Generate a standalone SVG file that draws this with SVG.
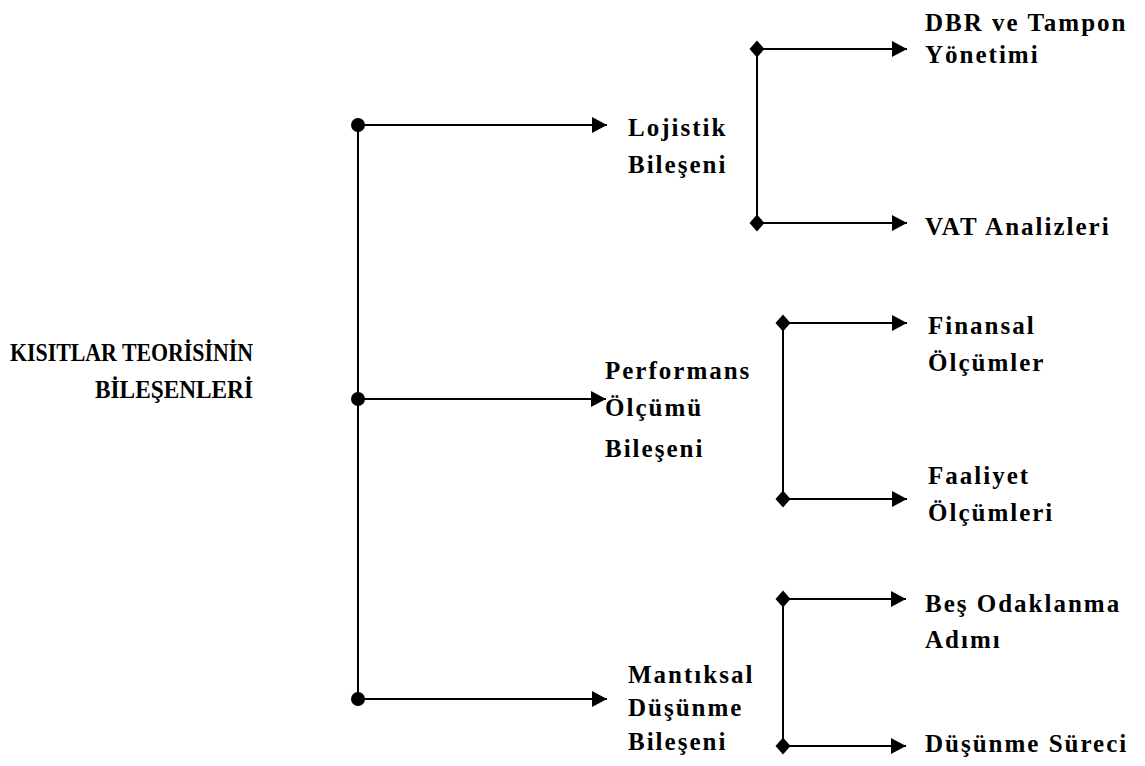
<svg xmlns="http://www.w3.org/2000/svg" width="1145" height="766" viewBox="0 0 1145 766">
<style>
  .t { font-family: "Liberation Serif", "Times New Roman", serif; font-weight: bold; font-size: 25px; fill: #000; letter-spacing: 2px; }
  .title { font-family: "Liberation Serif", "Times New Roman", serif; font-weight: bold; font-size: 25px; fill: #000; }
  .ln { stroke: #000; stroke-width: 2; fill: none; }
  .dot { fill: #000; }
</style>
<defs>
  <marker id="arr" markerUnits="userSpaceOnUse" markerWidth="16" markerHeight="18" refX="15" refY="8" orient="auto">
    <polygon points="0,0 15,8 0,16" fill="#000"/>
  </marker>
  <polygon id="dia" points="0,-8.5 7.5,0 0,8.5 -7.5,0" fill="#000"/>
</defs>
<rect width="1145" height="766" fill="#fff"/>
<g id="connectors">
  <line class="ln" x1="358" y1="125" x2="358" y2="699"/>
  <line class="ln" x1="358" y1="125" x2="607" y2="125" marker-end="url(#arr)"/>
  <line class="ln" x1="358" y1="399" x2="606" y2="399" marker-end="url(#arr)"/>
  <line class="ln" x1="358" y1="699" x2="607" y2="699" marker-end="url(#arr)"/>
  <circle class="dot" cx="358" cy="125" r="7"/>
  <circle class="dot" cx="358" cy="399" r="7"/>
  <circle class="dot" cx="358" cy="699" r="7"/>

  <line class="ln" x1="757" y1="49" x2="757" y2="223"/>
  <line class="ln" x1="757" y1="49" x2="907" y2="49" marker-end="url(#arr)"/>
  <line class="ln" x1="757" y1="223" x2="907" y2="223" marker-end="url(#arr)"/>
  <use href="#dia" x="757" y="49"/>
  <use href="#dia" x="757" y="223"/>

  <line class="ln" x1="783" y1="323" x2="783" y2="499"/>
  <line class="ln" x1="783" y1="323" x2="907" y2="323" marker-end="url(#arr)"/>
  <line class="ln" x1="783" y1="499" x2="907" y2="499" marker-end="url(#arr)"/>
  <use href="#dia" x="783" y="323"/>
  <use href="#dia" x="783" y="499"/>

  <line class="ln" x1="783" y1="599" x2="783" y2="746"/>
  <line class="ln" x1="783" y1="599" x2="906" y2="599" marker-end="url(#arr)"/>
  <line class="ln" x1="783" y1="746" x2="906" y2="746" marker-end="url(#arr)"/>
  <use href="#dia" x="783" y="599"/>
  <use href="#dia" x="783" y="746"/>
</g>
<g id="root">
  <text class="title" x="10" y="361" textLength="243" lengthAdjust="spacingAndGlyphs">KISITLAR TEORİSİNİN</text>
  <text class="title" x="95" y="398" textLength="158" lengthAdjust="spacingAndGlyphs">BİLEŞENLERİ</text>
</g>
<g id="lojistik">
  <text class="t" x="628" y="136">Lojistik</text>
  <text class="t" x="628" y="173">Bileşeni</text>
</g>
<g id="performans">
  <text class="t" x="605" y="379">Performans</text>
  <text class="t" x="605" y="416">Ölçümü</text>
  <text class="t" x="605" y="457">Bileşeni</text>
</g>
<g id="mantiksal">
  <text class="t" x="628" y="683">Mantıksal</text>
  <text class="t" x="628" y="716">Düşünme</text>
  <text class="t" x="628" y="750">Bileşeni</text>
</g>
<g id="dbr">
  <text class="t" x="925" y="31">DBR ve Tampon</text>
  <text class="t" x="925" y="63">Yönetimi</text>
</g>
<g id="vat">
  <text class="t" x="925" y="235">VAT Analizleri</text>
</g>
<g id="finansal">
  <text class="t" x="928" y="334">Finansal</text>
  <text class="t" x="928" y="371">Ölçümler</text>
</g>
<g id="faaliyet">
  <text class="t" x="928" y="484">Faaliyet</text>
  <text class="t" x="928" y="521">Ölçümleri</text>
</g>
<g id="odak">
  <text class="t" x="925" y="612">Beş Odaklanma</text>
  <text class="t" x="925" y="648">Adımı</text>
</g>
<g id="surec">
  <text class="t" x="925" y="752">Düşünme Süreci</text>
</g>
</svg>
